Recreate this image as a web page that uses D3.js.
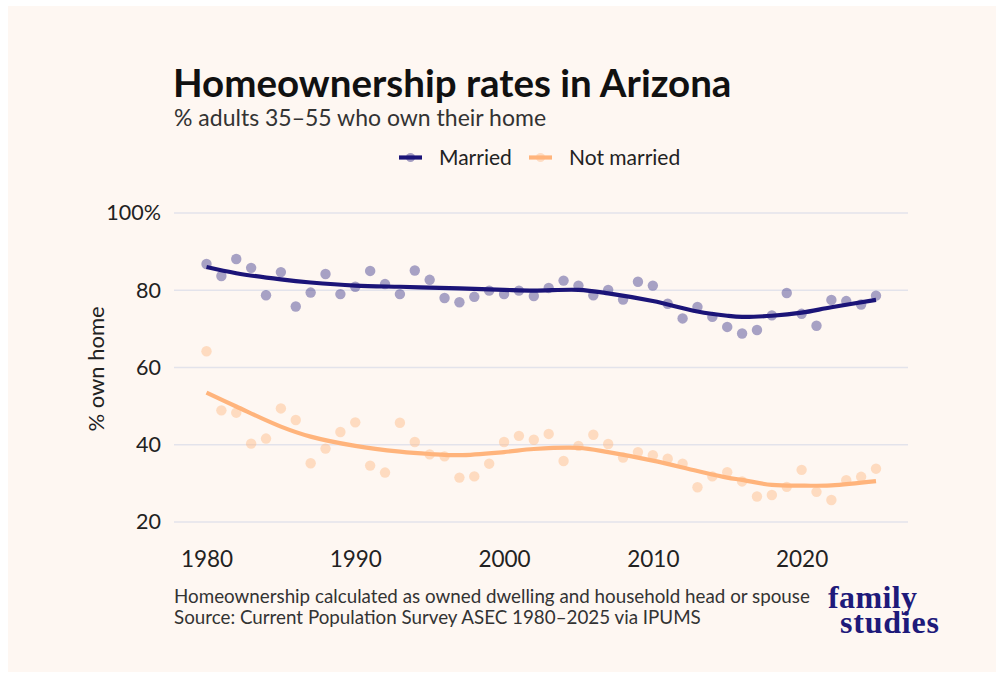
<!DOCTYPE html>
<html>
<head>
<meta charset="utf-8">
<script src="https://cdn.jsdelivr.net/npm/d3@7"></script>
<style>
  html, body { margin: 0; padding: 0; background: #fff; }
  svg { display: block; font-family: Lato, "Open Sans", sans-serif; }
</style>
</head>
<body>
<div id="chart"></div>
<script>
// survey years
const years = d3.range(1980, 2026);

// yearly point estimates, % who own their home
const married = [
  86.8, 83.7, 88.1, 85.8, 78.7, 84.7, 75.8, 79.4, 84.2, 79.0,
  80.9, 85.0, 81.6, 79.0, 85.1, 82.7, 78.0, 76.9, 78.3, 79.9,
  79.0, 79.9, 78.5, 80.6, 82.5, 81.2, 78.7, 80.1, 77.6, 82.2,
  81.2, 76.5, 72.7, 75.7, 73.1, 70.5, 68.8, 69.7, 73.5, 79.3,
  73.9, 70.8, 77.5, 77.2, 76.3, 78.6
];
const notMarried = [
  64.2, 48.9, 48.3, 40.3, 41.6, 49.4, 46.4, 35.2, 39.0, 43.3,
  45.8, 34.6, 32.8, 45.7, 40.7, 37.5, 37.0, 31.5, 31.8, 35.1,
  40.7, 42.3, 41.3, 42.8, 35.8, 39.7, 42.6, 40.2, 36.7, 38.1,
  37.3, 36.4, 35.1, 29.0, 31.8, 32.9, 30.5, 26.6, 27.0, 29.1,
  33.5, 27.8, 25.7, 30.8, 31.7, 33.8
];

// smoothed trend
const smoothYears      = [1980, 1982, 1985, 1987, 1990, 1993, 1995, 1997, 2000, 2002, 2005, 2007, 2010, 2013, 2015, 2016, 2018, 2020, 2022, 2025];
const marriedSmooth    = [86.0, 84.4, 82.8, 82.0, 81.2, 80.9, 80.7, 80.5, 80.1, 79.9, 80.1, 79.2, 77.2, 74.5, 73.4, 73.1, 73.4, 74.2, 75.6, 77.5];
const notMarriedSmooth = [53.5, 49.9, 44.7, 42.1, 39.7, 38.2, 37.6, 37.3, 38.1, 38.9, 39.2, 38.1, 35.9, 33.2, 31.5, 30.9, 29.6, 29.4, 29.5, 30.6];

const yTicks = [20, 40, 60, 80, 100];
const xTicks = [1980, 1990, 2000, 2010, 2020];

const series = [
  { name: "Married", values: married, smooth: marriedSmooth, line: "#1b1478", dot: "#1b1478" },
  { name: "Not married", values: notMarried, smooth: notMarriedSmooth, line: "#ffb47c", dot: "#ffb47c" }
];

const width = 1002, height = 677;
const plot = { left: 174, right: 908, top: 213, bottom: 522 };

const svg = d3.select("#chart").append("svg")
  .attr("width", width)
  .attr("height", height);

svg.append("rect")
  .attr("x", 8).attr("y", 6)
  .attr("width", 988).attr("height", 666)
  .attr("fill", "#fef7f2");

const x = d3.scaleLinear().domain([1980, 2025]).range([206.5, 876]);
const y = d3.scaleLinear().domain([20, 100]).range([plot.bottom, plot.top]);

// gridlines
svg.append("g")
  .selectAll("line")
  .data(yTicks)
  .enter()
  .append("line")
  .attr("x1", plot.left)
  .attr("x2", plot.right)
  .attr("y1", d => y(d))
  .attr("y2", d => y(d))
  .attr("stroke", "#e3e3eb")
  .attr("stroke-width", 1.6);

// y axis
const yAxis = svg.append("g")
  .attr("transform", `translate(${plot.left},0)`)
  .call(d3.axisLeft(y).tickValues(yTicks).tickSize(0).tickPadding(13)
    .tickFormat(d => d === 100 ? "100%" : d));
yAxis.select(".domain").remove();
yAxis.selectAll("text")
  .attr("font-family", "Lato")
  .attr("font-size", 21.5)
  .attr("fill", "#222");

// x axis
const xAxis = svg.append("g")
  .attr("transform", `translate(0,${plot.bottom})`)
  .call(d3.axisBottom(x).tickValues(xTicks).tickSize(0).tickPadding(29)
    .tickFormat(d3.format("d")));
xAxis.select(".domain").remove();
xAxis.selectAll("text")
  .attr("font-family", "Lato")
  .attr("font-size", 22.5)
  .attr("fill", "#222");

svg.append("text")
  .attr("transform", `translate(104,369) rotate(-90)`)
  .attr("text-anchor", "middle")
  .attr("font-size", 22)
  .attr("fill", "#222")
  .text("% own home");

// points
series.forEach(s => {
  svg.append("g")
    .selectAll("circle")
    .data(s.values)
    .enter()
    .append("circle")
    .attr("cx", (d, i) => x(years[i]))
    .attr("cy", d => y(d))
    .attr("r", 5.2)
    .attr("fill", s.dot)
    .attr("fill-opacity", s.name === "Married" ? 0.38 : 0.42);
});

// smoothed lines
const line = d3.line()
  .x((d, i) => x(smoothYears[i]))
  .y(d => y(d))
  .curve(d3.curveCatmullRom.alpha(0.5));

series.forEach(s => {
  svg.append("path")
    .datum(s.smooth)
    .attr("d", line)
    .attr("fill", "none")
    .attr("stroke", s.line)
    .attr("stroke-width", 4.2);
});

// legend
const legendPos = [
  { key: 399, text: 439 },
  { key: 529, text: 569 }
];
const legend = svg.append("g");
series.forEach((s, i) => {
  const p = legendPos[i];
  legend.append("line")
    .attr("x1", p.key).attr("x2", p.key + 23)
    .attr("y1", 157.5).attr("y2", 157.5)
    .attr("stroke", s.line)
    .attr("stroke-width", 4.2);
  legend.append("circle")
    .attr("cx", p.key + 11.5).attr("cy", 157.5)
    .attr("r", 4.5)
    .attr("fill", s.dot)
    .attr("fill-opacity", 0.4);
  legend.append("text")
    .attr("x", p.text).attr("y", 165)
    .attr("font-size", 21)
    .attr("fill", "#222")
    .text(s.name);
});

// titles
svg.append("text")
  .attr("x", 173).attr("y", 97)
  .attr("font-size", 38.5)
  .attr("font-weight", 700)
  .attr("fill", "#111")
  .text("Homeownership rates in Arizona");

svg.append("text")
  .attr("x", 174).attr("y", 125.5)
  .attr("font-size", 23)
  .attr("fill", "#333")
  .text("% adults 35\u201355 who own their home");

// caption
const caption = [
  "Homeownership calculated as owned dwelling and household head or spouse",
  "Source: Current Population Survey ASEC 1980\u20132025 via IPUMS"
];
svg.append("g")
  .selectAll("text")
  .data(caption)
  .enter()
  .append("text")
  .attr("x", 174)
  .attr("y", (d, i) => 602.5 + i * 21)
  .attr("font-size", 18.8)
  .attr("fill", "#333")
  .text(d => d);

// logo
const logo = svg.append("g")
  .attr("font-family", "'Liberation Serif', 'DejaVu Serif', serif")
  .attr("font-weight", 700)
  .attr("fill", "#1e1a7a");
logo.append("text")
  .attr("x", 828).attr("y", 608)
  .attr("font-size", 32)
  .attr("textLength", 89)
  .text("family");
logo.append("text")
  .attr("x", 840).attr("y", 633)
  .attr("font-size", 32)
  .attr("textLength", 99)
  .text("studies");
</script>
</body>
</html>
